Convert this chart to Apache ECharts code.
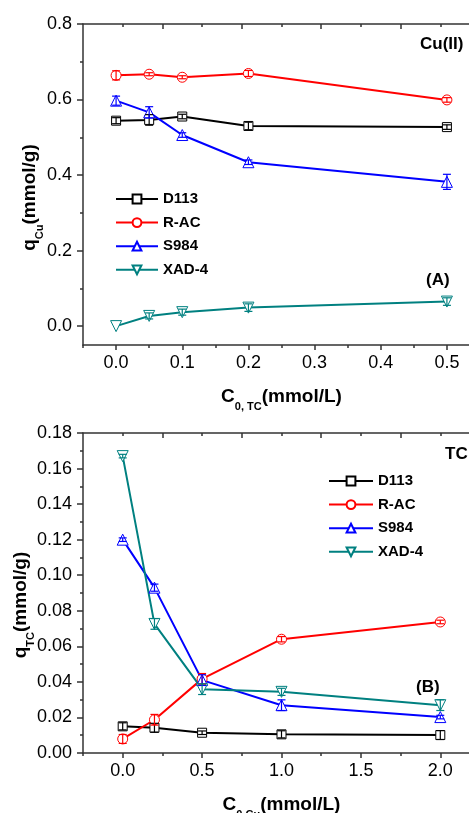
<!DOCTYPE html>
<html>
<head>
<meta charset="utf-8">
<script src="https://cdn.jsdelivr.net/npm/echarts@6/dist/echarts.min.js"></script>
<style>
html,body{margin:0;padding:0;background:#fff;}
#chart{width:469px;height:813px;}
</style>
</head>
<body>
<div id="chart"></div>
<script>
// ---------- Data ----------
const seriesNames = ['D113', 'R-AC', 'S984', 'XAD-4'];

// Panel A: q_Cu vs C0,TC
const xA = [0, 0.05, 0.1, 0.2, 0.5];
const A_D113 = [0.544, 0.546, 0.555, 0.530, 0.527];
const A_RAC  = [0.664, 0.667, 0.659, 0.669, 0.599];
const A_S984 = [0.597, 0.566, 0.506, 0.434, 0.382];
const A_XAD4 = [0.000, 0.027, 0.037, 0.049, 0.065];
const A_D113_err = [0.008, 0.014, 0.006, 0.010, 0.006];
const A_RAC_err  = [0.012, 0.004, 0.004, 0.008, 0.006];
const A_S984_err = [0.012, 0.015, 0.006, 0.006, 0.020];
const A_XAD4_err = [0.000, 0.008, 0.008, 0.010, 0.010];

// Panel B: q_TC vs C0,Cu
const xB = [0, 0.2, 0.5, 1.0, 2.0];
const B_D113 = [0.0150, 0.0142, 0.0114, 0.0105, 0.0101];
const B_RAC  = [0.0079, 0.0187, 0.0417, 0.0640, 0.0737];
const B_S984 = [0.1200, 0.0930, 0.0410, 0.0269, 0.0202];
const B_XAD4 = [0.1670, 0.0726, 0.0359, 0.0344, 0.0269];
const B_D113_err = [0.0020, 0.0025, 0.0010, 0.0020, 0.0025];
const B_RAC_err  = [0.0025, 0.0030, 0.0030, 0.0015, 0.0010];
const B_S984_err = [0.0010, 0.0020, 0.0030, 0.0030, 0.0010];
const B_XAD4_err = [0.0010, 0.0030, 0.0030, 0.0020, 0.0030];

// Tick values
const A_xMajor = [0, 0.1, 0.2, 0.3, 0.4, 0.5];
const A_xMinor = [-0.05, 0.05, 0.15, 0.25, 0.35, 0.45, 0.55];
const A_yMajor = [0, 0.2, 0.4, 0.6, 0.8];
const A_yMinor = [0.1, 0.3, 0.5, 0.7];
const B_xMajor = [0, 0.5, 1.0, 1.5, 2.0];
const B_xMinor = [-0.25, 0.25, 0.75, 1.25, 1.75, 2.25];
const B_yMajor = [0, 0.02, 0.04, 0.06, 0.08, 0.10, 0.12, 0.14, 0.16, 0.18];
const B_yMinor = [0.01, 0.03, 0.05, 0.07, 0.09, 0.11, 0.13, 0.15, 0.17];
const top_Major = [0.25, 0.75, 1.25, 1.75, 2.25];
const top_Minor = [0, 0.5, 1.0, 1.5, 2.0];

// ---------- Styles ----------
const FONT = "'Liberation Sans', Arial, Helvetica, sans-serif";
const colors = ['#000000', '#ff0000', '#0000ff', '#008080'];
const symbols = ['rect', 'circle', 'triangle', 'triangle'];
const symbolRot = [0, 0, 0, 180];
const symbolSizes = [9, 10, 11, 11];
const AX = '#333333';

const chart = echarts.init(document.getElementById('chart'), null, {renderer: 'canvas'});

function zip(xs, ys) { return xs.map((x, i) => [x, ys[i]]); }
function zip3(xs, ys, es) { return xs.map((x, i) => [x, ys[i], es[i]]); }

function mainX(grid, min, max, major, dec, name) {
  return {
    type: 'value', gridIndex: grid, position: 'bottom', min: min, max: max,
    axisLine: {show: true, onZero: false, lineStyle: {color: AX, width: 1.5}},
    axisTick: {show: true, inside: false, length: 5, customValues: major, lineStyle: {color: AX, width: 1.5}},
    axisLabel: {show: true, customValues: major, margin: 9, color: '#000', fontSize: 18, fontFamily: FONT,
      formatter: v => v.toFixed(dec)},
    splitLine: {show: false},
    name: name, nameLocation: 'middle', nameGap: 37, nameMoveOverlap: false,
    nameTextStyle: {
      color: '#000',
      rich: {
        m: {fontSize: 19, fontWeight: 'bold', fontFamily: FONT, color: '#000', lineHeight: 30},
        s: {fontSize: 11, fontWeight: 'bold', fontFamily: FONT, color: '#000', lineHeight: 11, verticalAlign: 'bottom'}
      }
    }
  };
}
function tickOnlyX(grid, min, max, vals, pos, inside, len) {
  return {
    type: 'value', gridIndex: grid, position: pos, min: min, max: max, offset: 0,
    axisLine: {show: false, onZero: false},
    axisTick: {show: true, inside: inside, length: len, customValues: vals, lineStyle: {color: AX, width: 1.5}},
    axisLabel: {show: false}, splitLine: {show: false}
  };
}
function topX(grid) {
  const a = tickOnlyX(grid, -0.25, 2.25, top_Major, 'top', true, 5);
  a.axisLine = {show: true, onZero: false, lineStyle: {color: AX, width: 1.5}};
  return a;
}
function mainY(grid, min, max, major, dec, name, padRight, gap) {
  return {
    type: 'value', gridIndex: grid, position: 'left', min: min, max: max,
    axisLine: {show: true, onZero: false, lineStyle: {color: AX, width: 1.5}},
    axisTick: {show: true, inside: false, length: 6, customValues: major, lineStyle: {color: AX, width: 1.5}},
    axisLabel: {show: true, customValues: major, margin: 11, color: '#000', fontSize: 18, fontFamily: FONT,
      formatter: v => v.toFixed(dec)},
    splitLine: {show: false},
    name: name, nameLocation: 'middle', nameGap: gap, nameMoveOverlap: false,
    nameTextStyle: {
      color: '#000', padding: [0, padRight, 0, 0],
      rich: {
        m: {fontSize: 19, fontWeight: 'bold', fontFamily: FONT, color: '#000', lineHeight: 30},
        s: {fontSize: 11, fontWeight: 'bold', fontFamily: FONT, color: '#000', lineHeight: 11, verticalAlign: 'bottom'}
      }
    }
  };
}
function tickOnlyY(grid, min, max, vals) {
  return {
    type: 'value', gridIndex: grid, position: 'left', min: min, max: max, offset: 0,
    axisLine: {show: false, onZero: false},
    axisTick: {show: true, inside: false, length: 3, customValues: vals, lineStyle: {color: AX, width: 1.5}},
    axisLabel: {show: false}, splitLine: {show: false}
  };
}

function lineSeries(name, idx, data, xi, yi) {
  return {
    type: 'line', name: name, xAxisIndex: xi, yAxisIndex: yi, data: data,
    symbol: symbols[idx], symbolRotate: symbolRot[idx], symbolSize: symbolSizes[idx],
    showAllSymbol: true, animation: false, z: 3,
    lineStyle: {color: colors[idx], width: 2},
    itemStyle: {color: '#ffffff', borderColor: colors[idx], borderWidth: 1},
    emphasis: {disabled: true}
  };
}
function errSeries(idx, data, xi, yi) {
  const c = colors[idx];
  return {
    type: 'custom', name: seriesNames[idx] + ' err', xAxisIndex: xi, yAxisIndex: yi, data: data,
    encode: {x: 0, y: 1}, animation: false, silent: true, z: 4,
    renderItem: function (params, api) {
      const x = api.value(0), y = api.value(1), e = api.value(2);
      if (!e) return null;
      const hi = api.coord([x, y + e]), lo = api.coord([x, y - e]);
      const w = 4;
      const st = {stroke: c, lineWidth: 1.2};
      return {type: 'group', children: [
        {type: 'line', shape: {x1: hi[0], y1: hi[1], x2: lo[0], y2: lo[1]}, style: st},
        {type: 'line', shape: {x1: hi[0] - w, y1: hi[1], x2: hi[0] + w, y2: hi[1]}, style: st},
        {type: 'line', shape: {x1: lo[0] - w, y1: lo[1], x2: lo[0] + w, y2: lo[1]}, style: st}
      ]};
    }
  };
}

const A_vals = [A_D113, A_RAC, A_S984, A_XAD4];
const A_errs = [A_D113_err, A_RAC_err, A_S984_err, A_XAD4_err];
const B_vals = [B_D113, B_RAC, B_S984, B_XAD4];
const B_errs = [B_D113_err, B_RAC_err, B_S984_err, B_XAD4_err];

const series = [];
seriesNames.forEach((n, i) => series.push(lineSeries(n, i, zip(xA, A_vals[i]), 0, 0)));
seriesNames.forEach((n, i) => series.push(errSeries(i, zip3(xA, A_vals[i], A_errs[i]), 0, 0)));
seriesNames.forEach((n, i) => series.push(lineSeries(n, i, zip(xB, B_vals[i]), 4, 2)));
seriesNames.forEach((n, i) => series.push(errSeries(i, zip3(xB, B_vals[i], B_errs[i]), 4, 2)));

const legendCommon = {
  orient: 'vertical', itemWidth: 42, itemHeight: 11, itemGap: 8.6, data: seriesNames,
  selectedMode: false, padding: 0,
  textStyle: {fontFamily: FONT, fontWeight: 'bold', fontSize: 15, color: '#000', lineHeight: 14}
};

const option = {
  backgroundColor: '#ffffff',
  animation: false,
  grid: [
    {left: 83, top: 24, width: 397, height: 321, outerBoundsMode: 'none', containLabel: false},
    {left: 83, top: 433, width: 397, height: 320, outerBoundsMode: 'none', containLabel: false}
  ],
  xAxis: [
    mainX(0, -0.05, 0.55, A_xMajor, 1, '{m|C}{s|0, TC}{m|(mmol/L)}'),
    tickOnlyX(0, -0.05, 0.55, A_xMinor, 'bottom', false, 3),
    topX(0),
    tickOnlyX(0, -0.25, 2.25, top_Minor, 'top', true, 3),
    mainX(1, -0.25, 2.25, B_xMajor, 1, '{m|C}{s|0,Cu}{m|(mmol/L)}'),
    tickOnlyX(1, -0.25, 2.25, B_xMinor, 'bottom', false, 3),
    topX(1),
    tickOnlyX(1, -0.25, 2.25, top_Minor, 'top', true, 3)
  ],
  yAxis: [
    mainY(0, -0.05, 0.8, A_yMajor, 1, '{m|q}{s|Cu}{m|(mmol/g)}', 26, 38),
    tickOnlyY(0, -0.05, 0.8, A_yMinor),
    mainY(1, 0, 0.18, B_yMajor, 2, '{m|q}{s|TC}{m|(mmol/g)}', 24, 47),
    tickOnlyY(1, 0, 0.18, B_yMinor)
  ],
  legend: [
    Object.assign({}, legendCommon, {left: 115, top: 191.5}),
    Object.assign({}, legendCommon, {left: 328, top: 473.5, itemWidth: 44})
  ],
  graphic: [
    {type: 'text', left: 420, top: 36, style: {text: 'Cu(II)', font: 'bold 17px ' + FONT, fill: '#000'}},
    {type: 'text', left: 426, top: 272, style: {text: '(A)', font: 'bold 17px ' + FONT, fill: '#000'}},
    {type: 'text', left: 445, top: 446, style: {text: 'TC', font: 'bold 17px ' + FONT, fill: '#000'}},
    {type: 'text', left: 416, top: 679, style: {text: '(B)', font: 'bold 17px ' + FONT, fill: '#000'}}
  ],
  series: series
};
chart.setOption(option);
</script>
</body>
</html>
